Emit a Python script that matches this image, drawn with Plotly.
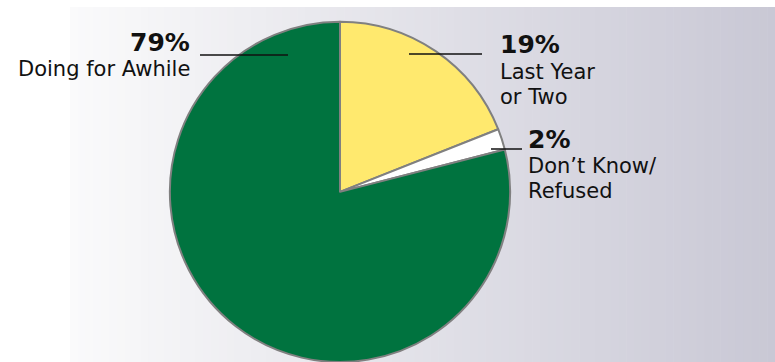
import plotly.graph_objects as go

# Survey split: how long the respondent has been doing it
categories = ["Last Year or Two", "Don’t Know/Refused", "Doing for Awhile"]
shares = [19, 2, 79]
slice_colors = ["#FFE96E", "#FFFFFF", "#00733F"]

# Caption lines shown under each percentage
caption_lines = {
    "Doing for Awhile": ["Doing for Awhile"],
    "Last Year or Two": ["Last Year", "or Two"],
    "Don’t Know/Refused": ["Don’t Know/", "Refused"],
}

W, H = 775, 362
FONT = "DejaVu Sans"


def px(x):
    return x / W


def py(y):
    return 1 - y / H


fig = go.Figure()

fig.add_trace(go.Pie(
    labels=categories,
    values=shares,
    sort=False,
    direction="clockwise",
    rotation=0,
    marker=dict(colors=slice_colors, line=dict(color="#808080", width=2)),
    textinfo="none",
    hoverinfo="label+percent",
    showlegend=False,
    domain=dict(x=[px(340) - 0.25, px(340) + 0.25], y=[0, 0.94]),
))

# Soft horizontal gradient panel behind the pie
left, right, top = 70, 775, 7
c0 = (250, 250, 251)
c1 = (201, 200, 213)
n_strips = 90
shapes = []
step = (right - left) / n_strips
for i in range(n_strips):
    t = i / (n_strips - 1)
    col = tuple(round(a + (b - a) * t) for a, b in zip(c0, c1))
    shapes.append(dict(
        type="rect", xref="paper", yref="paper", layer="below",
        x0=px(left + i * step), x1=px(left + (i + 1) * step + 0.6),
        y0=0, y1=py(top),
        fillcolor="rgb(%d,%d,%d)" % col, line=dict(width=0),
    ))

# Leader lines from labels into the slices
leaders = [(200, 288, 55), (409, 482, 54), (491, 522, 149)]
for x0, x1, y in leaders:
    shapes.append(dict(
        type="line", xref="paper", yref="paper",
        x0=px(x0), x1=px(x1), y0=py(y), y1=py(y),
        line=dict(color="#111111", width=1.5),
    ))

annotations = []


def label(text, x, y, size, anchor, bold=False):
    annotations.append(dict(
        text="<b>%s</b>" % text if bold else text,
        x=px(x), y=py(y), xref="paper", yref="paper",
        xanchor=anchor, yanchor="middle", showarrow=False,
        borderpad=0, borderwidth=0,
        font=dict(family=FONT, size=size, color="#111111"),
    ))


share_of = dict(zip(categories, shares))

# Percent + caption blocks: (category, x, percent y, first caption y, anchor)
blocks = [
    ("Doing for Awhile", 190, 42, 69, "right"),
    ("Last Year or Two", 500, 45, 72, "left"),
    ("Don’t Know/Refused", 528, 139, 166, "left"),
]
for cat, x, y_pct, y_cap, anchor in blocks:
    label("%d%%" % share_of[cat], x, y_pct, 25, anchor, bold=True)
    for k, line in enumerate(caption_lines[cat]):
        label(line, x, y_cap + k * 24.6, 21, anchor)

fig.update_layout(
    width=W, height=H,
    margin=dict(l=0, r=0, t=0, b=0),
    paper_bgcolor="white",
    plot_bgcolor="white",
    shapes=shapes,
    annotations=annotations,
)

fig.write_html("out.html")
